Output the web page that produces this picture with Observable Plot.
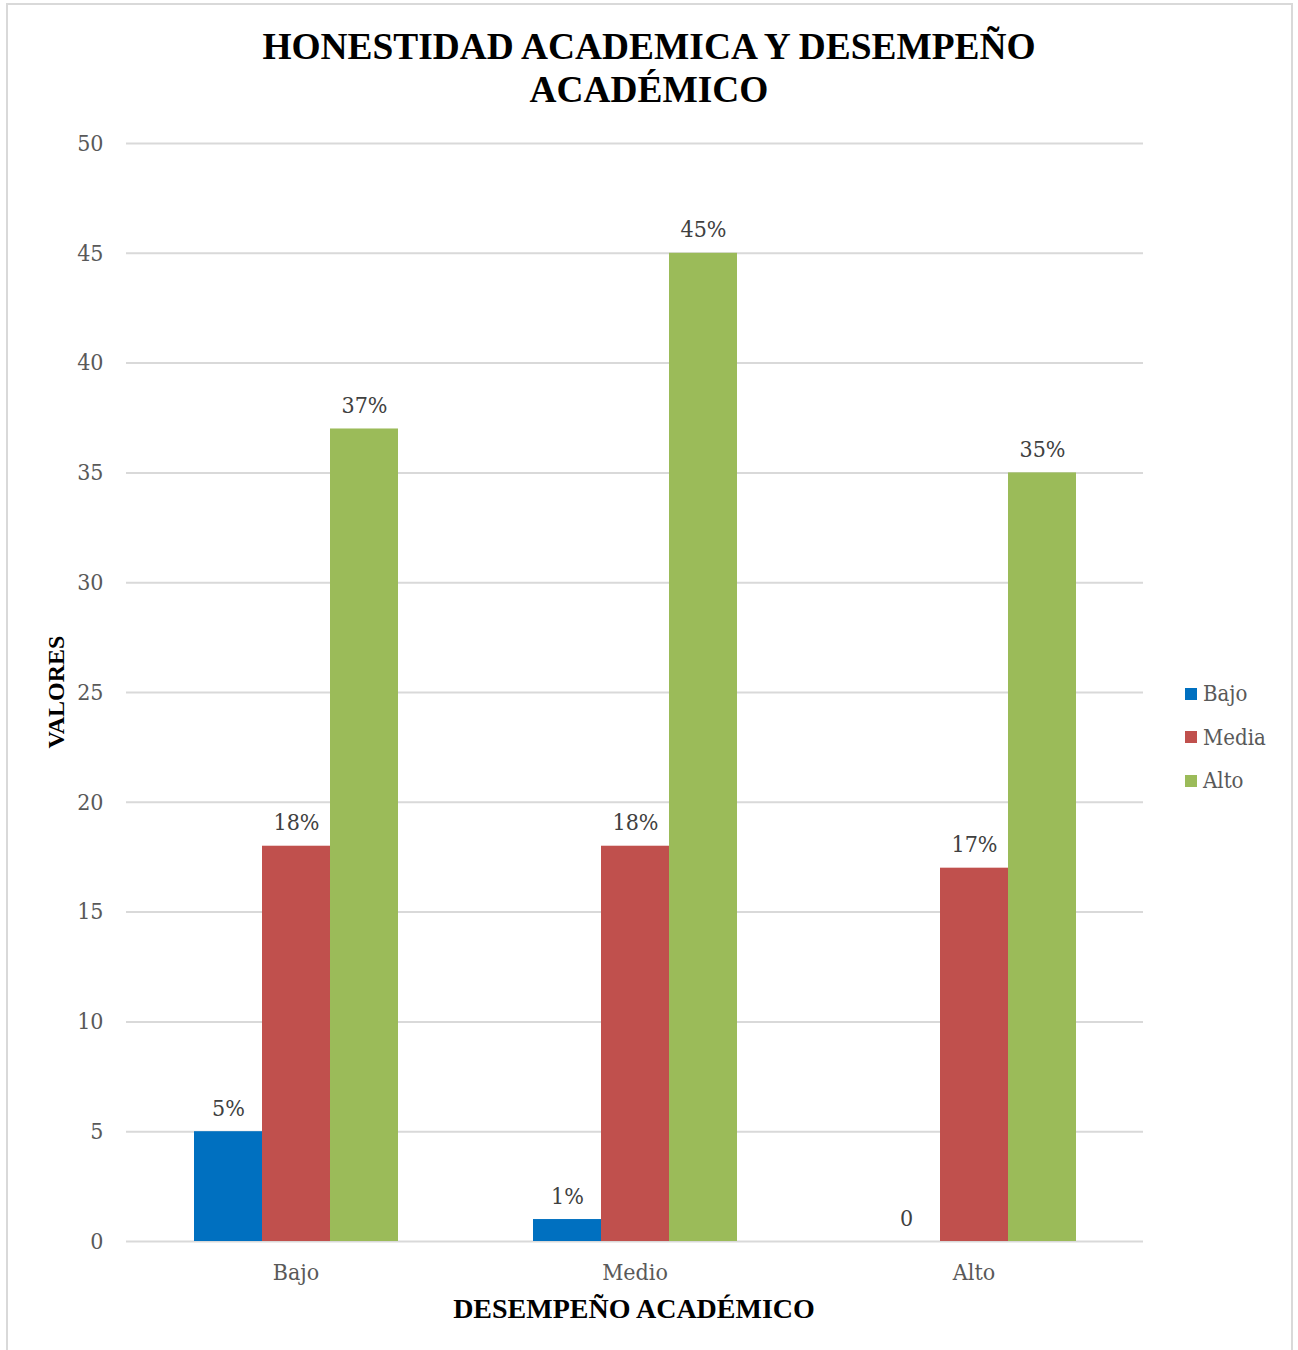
<!DOCTYPE html>
<html>
<head>
<meta charset="utf-8">
<script src="https://cdn.jsdelivr.net/npm/d3@7"></script>
<script src="https://cdn.jsdelivr.net/npm/@observablehq/plot@0.6"></script>
<style>
  html, body { margin: 0; padding: 0; background: #fff; }
  #page { position: relative; width: 1298px; height: 1350px; overflow: hidden; }
  #frame { position: absolute; left: 6px; top: 3px; width: 1287px; height: 1400px; border: 2px solid #d9d9d9; box-sizing: border-box; }
  #title { position: relative; height: 115px; box-sizing: border-box; padding-top: 25px; text-align: center;
           font: bold 37.4px/43px "Liberation Serif", "Times New Roman", serif; color: #000; }
  #chart { position: absolute; left: 0; top: 115px; }
  .ticks text, .lbl text { font-family: "DejaVu Serif", serif; font-stretch: condensed; }
  #ytitle { position: absolute; left: 56px; top: 692px; transform: translate(-50%, -50%) rotate(-90deg);
            font: bold 24px/1 "Liberation Serif", "Times New Roman", serif; white-space: nowrap; color: #000; }
  #xtitle { position: absolute; left: 634px; top: 1295px; transform: translateX(-50%);
            font: bold 28px/1 "Liberation Serif", "Times New Roman", serif; white-space: nowrap; color: #000; }
  #legend { position: absolute; left: 1185px; top: 672px; font-family: "DejaVu Serif", serif; font-stretch: condensed;
            font-size: 22px; color: #595959; }
  #legend .item { display: flex; align-items: center; height: 43.5px; }
  #legend .sw { width: 12px; height: 12px; margin-right: 6px; }
</style>
</head>
<body>
<div id="page">
  <div id="frame"></div>
  <div id="title">HONESTIDAD ACADEMICA Y DESEMPEÑO<br>ACADÉMICO</div>
  <div id="chart"></div>
  <div id="ytitle">VALORES</div>
  <div id="xtitle">DESEMPEÑO ACADÉMICO</div>
  <div id="legend"></div>
</div>
<script>
// Categories (x axis groups) and series
const categories = ["Bajo", "Medio", "Alto"];
const series = ["Bajo", "Media", "Alto"];
const seriesColors = ["#0070C0", "#C0504D", "#9BBB59"];

// Values per series, one per category
const valuesBajo  = [5, 1, 0];
const valuesMedia = [18, 18, 17];
const valuesAlto  = [37, 45, 35];

// Data labels shown above bars
const labelsBajo  = ["5%", "1%", "0"];
const labelsMedia = ["18%", "18%", "17%"];
const labelsAlto  = ["37%", "45%", "35%"];

// Y axis ticks
const yTicks = [0, 5, 10, 15, 20, 25, 30, 35, 40, 45, 50];

const seriesValues = [valuesBajo, valuesMedia, valuesAlto];
const seriesLabels = [labelsBajo, labelsMedia, labelsAlto];

const data = [];
categories.forEach((c, i) => {
  series.forEach((s, j) => {
    data.push({grupo: c, serie: s, valor: seriesValues[j][i], etiqueta: seriesLabels[j][i]});
  });
});

const chart = Plot.plot({
  width: 1298,
  height: 1235,
  marginLeft: 125,
  marginRight: 155,
  marginTop: 28,
  marginBottom: 109,
  style: {background: "transparent"},
  fx: {domain: categories, padding: 0, label: null},
  x: {domain: series, paddingInner: 0, paddingOuter: 0.98, axis: null},
  y: {domain: [0, 50], label: null},
  color: {domain: series, range: seriesColors},
  marks: [
    Plot.gridY(yTicks, {stroke: "#d9d9d9", strokeOpacity: 1, strokeWidth: 2}),
    Plot.axisY(yTicks, {tickSize: 0, tickPadding: 23, fontSize: 23, fill: "#595959", label: null, className: "ticks"}),
    Plot.axisFx({anchor: "bottom", tickSize: 0, tickPadding: 22, fontSize: 23, fill: "#595959", label: null, className: "ticks"}),
    Plot.barY(data, {fx: "grupo", x: "serie", y: "valor", fill: "serie"}),
    Plot.text(data, {fx: "grupo", x: "serie", y: "valor", text: "etiqueta", lineAnchor: "bottom", dy: -16,
                     fontSize: 23, fill: "#404040", className: "lbl"})
  ]
});
document.getElementById("chart").appendChild(chart);

const legend = document.getElementById("legend");
series.forEach((s, j) => {
  const item = document.createElement("div");
  item.className = "item";
  const sw = document.createElement("div");
  sw.className = "sw";
  sw.style.background = seriesColors[j];
  const t = document.createElement("span");
  t.textContent = s;
  item.appendChild(sw);
  item.appendChild(t);
  legend.appendChild(item);
});
</script>
</body>
</html>
